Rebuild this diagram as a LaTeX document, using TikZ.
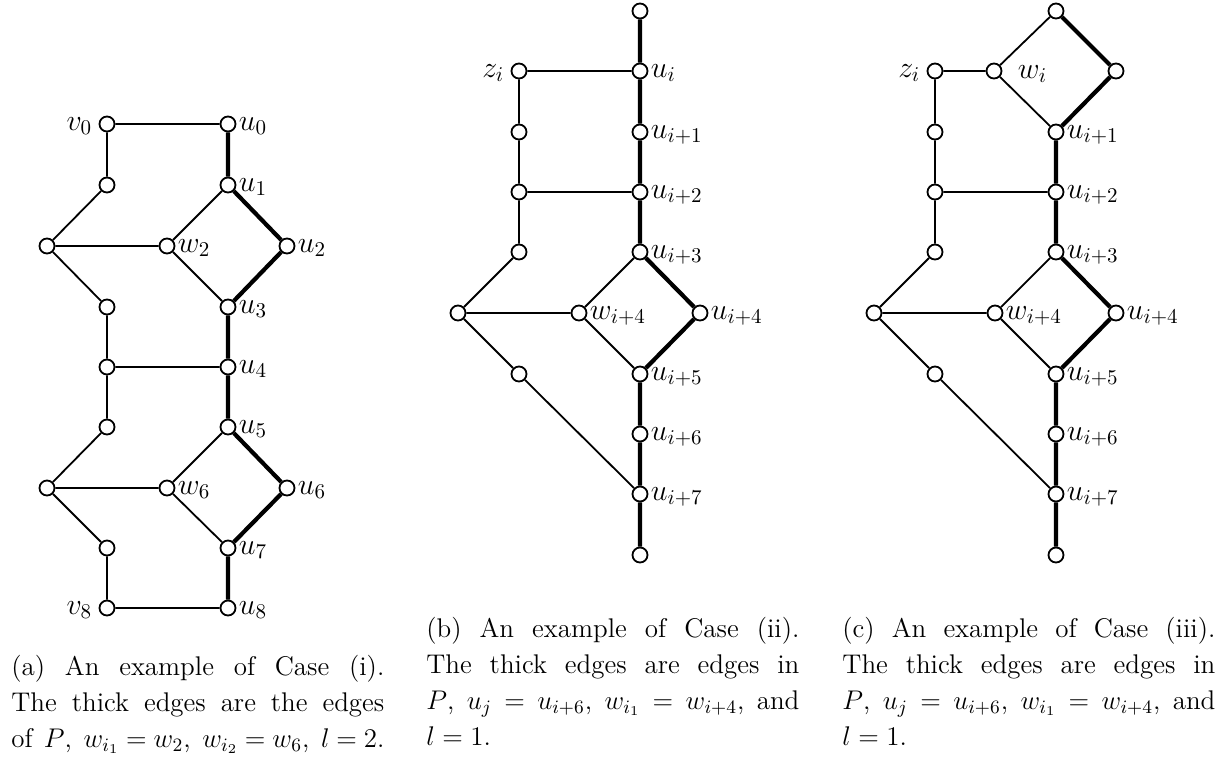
\documentclass[tikz,border=0pt]{standalone}
\usepackage{fix-cm}
\tikzset{
  v/.style={circle, draw, fill=white, inner sep=0pt, minimum size=7.5pt, line width=0.9pt},
  e/.style={line width=0.9pt},
  pe/.style={line width=2.1pt},
  every label/.style={font=\fontsize{15}{18}\selectfont},
  rl/.style={label={[anchor=base west, inner sep=0pt, xshift=1pt, yshift=-3pt]east:$#1$}},
  ll/.style={label={[anchor=base east, inner sep=0pt, xshift=-3pt, yshift=-3pt]west:$#1$}},
  captext/.style={inner sep=0pt, anchor=base west}
}
\begin{document}
\begin{tikzpicture}[x=0.5pt,y=-0.5pt,font=\fontsize{13.5}{18}\selectfont]
\path[use as bounding box] (0,0) rectangle (1231,762);
% ---------- (a)
\node[v,ll=v_0] (v0) at (107,124) {};
\node[v,rl=u_0] (u0) at (228,124) {};
\node[v] (a1) at (107,185) {};
\node[v,rl=u_1] (u1) at (228,185) {};
\node[v] (L1) at (47,246) {};
\node[v,rl=w_2] (w2) at (167,246) {};
\node[v,rl=u_2] (u2) at (287,246) {};
\node[v] (a3) at (107,307) {};
\node[v,rl=u_3] (u3) at (228,307) {};
\node[v] (a4) at (107,367) {};
\node[v,rl=u_4] (u4) at (228,367) {};
\node[v] (a5) at (107,427) {};
\node[v,rl=u_5] (u5) at (228,427) {};
\node[v] (L2) at (47,488) {};
\node[v,rl=w_6] (w6) at (167,488) {};
\node[v,rl=u_6] (u6) at (287,488) {};
\node[v] (a7) at (107,548) {};
\node[v,rl=u_7] (u7) at (228,548) {};
\node[v,ll=v_8] (v8) at (107,608) {};
\node[v,rl=u_8] (u8) at (228,608) {};
\draw[e] (v0)--(u0) (v0)--(a1) (a1)--(L1) (L1)--(w2) (L1)--(a3) (u1)--(w2) (w2)--(u3)
  (a3)--(a4) (a4)--(u4) (a4)--(a5) (a5)--(L2) (L2)--(w6) (L2)--(a7) (u5)--(w6) (w6)--(u7)
  (a7)--(v8) (v8)--(u8);
\draw[pe] (u0)--(u1) (u1)--(u2) (u2)--(u3) (u3)--(u4) (u4)--(u5) (u5)--(u6) (u6)--(u7) (u7)--(u8);
% ---------- (b)
\node[v] (bt) at (640,11) {};
\node[v,rl=u_i] (bu0) at (640,71) {};
\node[v,ll=z_i] (bz) at (519,71) {};
\node[v] (b1) at (519,132) {};
\node[v,rl={u_{i+1}}] (bu1) at (640,132) {};
\node[v] (b2) at (519,192) {};
\node[v,rl={u_{i+2}}] (bu2) at (640,192) {};
\node[v] (b3) at (519,252) {};
\node[v,rl={u_{i+3}}] (bu3) at (640,252) {};
\node[v] (bL) at (458,313) {};
\node[v,rl={w_{i+4}}] (bw) at (579,313) {};
\node[v,rl={u_{i+4}}] (bu4) at (700,313) {};
\node[v] (b5) at (519,374) {};
\node[v,rl={u_{i+5}}] (bu5) at (640,374) {};
\node[v,rl={u_{i+6}}] (bu6) at (640,434) {};
\node[v,rl={u_{i+7}}] (bu7) at (640,494) {};
\node[v] (bb) at (640,555) {};
\draw[e] (bz)--(bu0) (bz)--(b1) (b1)--(b2) (b2)--(b3) (b2)--(bu2) (b3)--(bL) (bL)--(bw)
  (bL)--(b5) (b5)--(bu7) (bu3)--(bw) (bw)--(bu5);
\draw[pe] (bt)--(bu0) (bu0)--(bu1) (bu1)--(bu2) (bu2)--(bu3) (bu3)--(bu4) (bu4)--(bu5)
  (bu5)--(bu6) (bu6)--(bu7) (bu7)--(bb);
% ---------- (c)
\node[v] (ct) at (1056,11) {};
\node[v,label={[anchor=base west, inner sep=0pt, xshift=7.5pt, yshift=-3.5pt]east:$w_i$}] (cw) at (994,71) {};
\node[v] (cr) at (1116,71) {};
\node[v,ll=z_i] (cz) at (935,71) {};
\node[v] (c1) at (935,132) {};
\node[v,rl={u_{i+1}}] (cu1) at (1056,132) {};
\node[v] (c2) at (935,192) {};
\node[v,rl={u_{i+2}}] (cu2) at (1056,192) {};
\node[v] (c3) at (935,252) {};
\node[v,rl={u_{i+3}}] (cu3) at (1056,252) {};
\node[v] (cL) at (874,313) {};
\node[v,rl={w_{i+4}}] (cw4) at (995,313) {};
\node[v,rl={u_{i+4}}] (cu4) at (1116,313) {};
\node[v] (c5) at (935,374) {};
\node[v,rl={u_{i+5}}] (cu5) at (1056,374) {};
\node[v,rl={u_{i+6}}] (cu6) at (1056,434) {};
\node[v,rl={u_{i+7}}] (cu7) at (1056,494) {};
\node[v] (cb) at (1056,555) {};
\draw[e] (ct)--(cw) (cz)--(cw) (cw)--(cu1) (cz)--(c1) (c1)--(c2) (c2)--(c3) (c2)--(cu2)
  (c3)--(cL) (cL)--(cw4) (cL)--(c5) (c5)--(cu7) (cu3)--(cw4) (cw4)--(cu5);
\draw[pe] (ct)--(cr) (cr)--(cu1) (cu1)--(cu2) (cu2)--(cu3) (cu3)--(cu4) (cu4)--(cu5)
  (cu5)--(cu6) (cu6)--(cu7) (cu7)--(cb);
% ---------- captions
\node[captext] (capa) at (11,747) {\vbox{\hsize=186.5pt
  \hbox to\hsize{(a) An example of Case (i).}
  \hbox to\hsize{The thick edges are the edges}
  \hbox to\hsize{of $P$, $w_{i_1}\!=\!w_2$, $w_{i_2}\!=\!w_6$, $l\!=\!2$.}}};
\node[captext] (capb) at (426,745) {\vbox{\hsize=186.5pt
  \hbox to\hsize{(b) An example of Case (ii).}
  \hbox to\hsize{The thick edges are edges in}
  \hbox to\hsize{$P$, $u_j=u_{i+6}$, $w_{i_1}=w_{i+4}$, and}
  \hbox{$l=1$.}}};
\node[captext] (capc) at (842,745) {\vbox{\hsize=186.5pt
  \hbox to\hsize{(c) An example of Case (iii).}
  \hbox to\hsize{The thick edges are edges in}
  \hbox to\hsize{$P$, $u_j=u_{i+6}$, $w_{i_1}=w_{i+4}$, and}
  \hbox{$l=1$.}}};
\end{tikzpicture}
\end{document}
